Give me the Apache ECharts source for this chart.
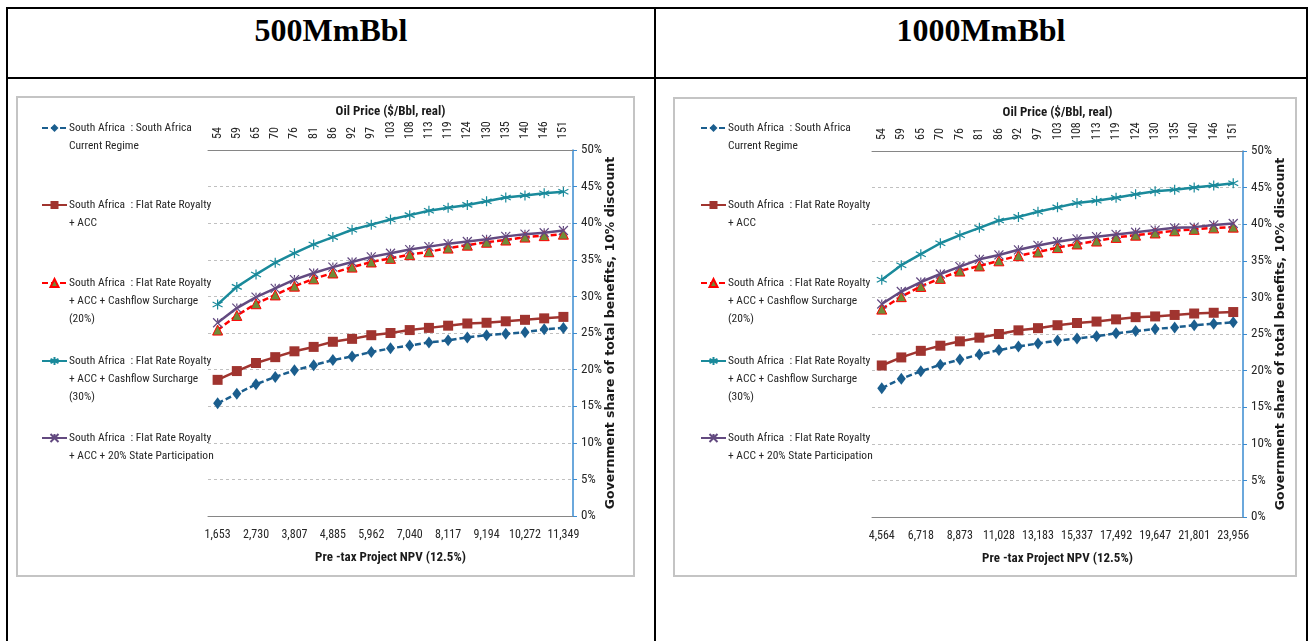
<!DOCTYPE html>
<html>
<head>
<meta charset="utf-8">
<script src="https://cdn.jsdelivr.net/npm/echarts@6/dist/echarts.min.js"></script>
<style>
  html, body { margin:0; padding:0; background:#fff; width:1315px; height:641px; overflow:hidden; }
  .ln { position:absolute; background:#000; }
  .hdr { position:absolute; top:13px; font-family:'Liberation Serif','Times New Roman',serif; font-weight:bold; font-size:32px; line-height:34px; text-align:center; color:#000; }
  .frame { position:absolute; box-sizing:border-box; border:2px solid #c4c4c4; }
  .chart { position:absolute; }
</style>
</head>
<body>
<div class="ln" style="left:6px;top:7px;width:1302px;height:2px;"></div>
<div class="ln" style="left:6px;top:7px;width:2px;height:640px;"></div>
<div class="ln" style="left:1306px;top:7px;width:2px;height:640px;"></div>
<div class="ln" style="left:654px;top:7px;width:2px;height:640px;"></div>
<div class="ln" style="left:6px;top:77px;width:1302px;height:2px;"></div>
<div class="hdr" style="left:8px;width:646px;">500MmBbl</div>
<div class="hdr" style="left:656px;width:650px;">1000MmBbl</div>
<div class="frame" style="left:16px;top:96px;width:619px;height:481px;"></div>
<div class="frame" style="left:673px;top:97px;width:624px;height:480px;"></div>
<div class="chart" id="c1" style="left:17px;top:97px;width:617px;height:479px;"></div>
<div class="chart" id="c2" style="left:674px;top:98px;width:622px;height:478px;"></div>
<script>
// ---- data ----
const oilPrice = ['54','59','65','70','76','81','86','92','97','103','108','113','119','124','130','135','140','146','151'];
const npv500 = ['1,653','2,192','2,730','3,269','3,807','4,346','4,885','5,423','5,962','6,501','7,040','7,578','8,117','8,655','9,194','9,733','10,272','10,810','11,349'];
const npv1000 = ['4,564','5,641','6,718','7,796','8,873','9,950','11,028','12,105','13,183','14,260','15,337','16,415','17,492','18,569','19,647','20,724','21,801','22,879','23,956'];
const yTicks = [0, 50, 5];

const seriesNames = ['Current Regime','Flat Rate Royalty + ACC','Flat Rate Royalty + ACC + Cashflow Surcharge (20%)','Flat Rate Royalty + ACC + Cashflow Surcharge (30%)','Flat Rate Royalty + ACC + 20% State Participation'];
const legendLines = [
  ['South Africa  : South Africa','Current Regime'],
  ['South Africa  : Flat Rate Royalty','+ ACC'],
  ['South Africa  : Flat Rate Royalty','+ ACC + Cashflow Surcharge','(20%)'],
  ['South Africa  : Flat Rate Royalty','+ ACC + Cashflow Surcharge','(30%)'],
  ['South Africa  : Flat Rate Royalty','+ ACC + 20% State Participation']
];

const current500 = [15.4,16.7,18.0,19.0,19.9,20.6,21.3,21.8,22.4,22.9,23.3,23.7,24.0,24.4,24.7,24.9,25.1,25.5,25.7];
const flat500    = [18.6,19.8,20.9,21.7,22.5,23.1,23.8,24.2,24.7,25.0,25.4,25.7,26.0,26.3,26.4,26.6,26.8,27.0,27.2];
const cfs20_500  = [25.4,27.4,29.0,30.2,31.4,32.4,33.2,34.0,34.7,35.2,35.7,36.1,36.6,37.0,37.4,37.7,38.1,38.3,38.5];
const cfs30_500  = [28.9,31.3,33.0,34.6,35.9,37.1,38.1,39.1,39.8,40.5,41.1,41.7,42.1,42.5,43.0,43.5,43.8,44.1,44.3];
const state500   = [26.4,28.4,29.9,31.1,32.3,33.2,34.0,34.7,35.4,35.9,36.4,36.8,37.2,37.5,37.8,38.2,38.5,38.7,39.0];

const current1000 = [17.6,18.9,19.9,20.8,21.5,22.2,22.8,23.3,23.7,24.1,24.4,24.7,25.1,25.4,25.7,25.9,26.2,26.4,26.6];
const flat1000    = [20.7,21.8,22.7,23.4,24.0,24.5,25.0,25.5,25.8,26.2,26.5,26.7,27.0,27.3,27.4,27.6,27.8,27.9,28.0];
const cfs20_1000  = [28.4,30.1,31.5,32.6,33.6,34.3,35.0,35.7,36.2,36.8,37.3,37.7,38.2,38.5,38.8,39.1,39.3,39.5,39.6];
const cfs30_1000  = [32.4,34.4,35.9,37.4,38.5,39.5,40.5,41.0,41.7,42.3,42.9,43.2,43.6,44.1,44.5,44.7,45.0,45.3,45.6];
const state1000   = [29.1,30.8,32.1,33.2,34.2,35.2,35.8,36.5,37.1,37.6,38.0,38.3,38.6,38.9,39.2,39.5,39.6,39.9,40.1];

// ---- styling ----
const FONT = "'Liberation Sans Narrow','Arial Narrow','Roboto Condensed',sans-serif";
const C_BLUE = '#1b5e8e', C_BROWN = '#a0342f', C_RED = '#ff0000', C_OLIVE = '#6f8c39', C_TEAL = '#1a8a9b', C_PURPLE = '#634a80';
const ASTER = 'path://M5,0L5,10M0.7,2.5L9.3,7.5M0.7,7.5L9.3,2.5';
const XMARK = 'path://M0,0L10,10M10,0L0,10M5,0L5,3';
const LH = 18;

function buildOption(npv, vals, gl, gw, legLeft, legCenters) {
  const styles = [
    { line: { color: C_BLUE, width: 2.5, type: [6, 3] }, symbol: 'diamond', size: [9, 12], item: { color: C_BLUE } },
    { line: { color: C_BROWN, width: 2.5, type: 'solid' }, symbol: 'rect', size: 10, item: { color: C_BROWN } },
    { line: { color: C_RED, width: 2.5, type: [6, 3] }, symbol: 'triangle', size: 10, item: { color: C_OLIVE, borderColor: C_RED, borderWidth: 1 } },
    { line: { color: C_TEAL, width: 2.5, type: 'solid' }, symbol: ASTER, size: 10, item: { color: 'rgba(0,0,0,0)', borderColor: C_TEAL, borderWidth: 1.2 } },
    { line: { color: C_PURPLE, width: 2.5, type: 'solid' }, symbol: XMARK, size: 9, item: { color: 'rgba(0,0,0,0)', borderColor: C_PURPLE, borderWidth: 1.2 } }
  ];
  const series = vals.map((d, i) => ({
    name: seriesNames[i], type: 'line', data: d, xAxisIndex: 0, yAxisIndex: 0,
    symbol: styles[i].symbol, symbolSize: styles[i].size, showAllSymbol: true,
    lineStyle: styles[i].line, itemStyle: styles[i].item, smooth: false,
    z: [2, 3, 4, 3, 5][i], animation: false
  }));
  const legends = seriesNames.map((nm, i) => {
    const n = legendLines[i].length;
    return {
      data: [nm], left: legLeft, top: legCenters[i] - (2 * n - 1) * LH / 2,
      orient: 'vertical', itemWidth: 25, itemHeight: 10, itemGap: 0, padding: 0,
      selectedMode: false,
      formatter: () => '\n'.repeat(n - 1) + legendLines[i].join('\n'),
      textStyle: { fontFamily: FONT, fontSize: 11.5, color: '#262626', lineHeight: LH, padding: [0, 0, 0, -3] }
    };
  });
  return {
    animation: false,
    textStyle: { fontFamily: FONT },
    grid: { left: gl, top: 53, width: gw, height: 366 },
    legend: legends,
    xAxis: [
      {
        type: 'category', position: 'bottom', data: npv, boundaryGap: true,
        axisLine: { lineStyle: { color: '#868686', width: 1 } },
        axisTick: { interval: 1, length: 4, lineStyle: { color: '#868686' } },
        axisLabel: { interval: 1, color: '#262626', fontSize: 12, margin: 13, fontFamily: FONT },
        name: 'Pre -tax Project NPV (12.5%)', nameLocation: 'middle', nameGap: 35, nameMoveOverlap: false,
        nameTextStyle: { fontWeight: 'bold', fontSize: 13, color: '#1a1a1a', fontFamily: FONT }
      },
      {
        type: 'category', position: 'top', data: oilPrice, boundaryGap: true,
        axisLine: { lineStyle: { color: '#868686', width: 1 } },
        axisTick: { interval: 0, length: 4, lineStyle: { color: '#868686' } },
        axisLabel: { interval: 0, rotate: -90, color: '#262626', fontSize: 12, margin: 11, fontFamily: FONT },
        name: 'Oil Price ($/Bbl, real)', nameLocation: 'middle', nameGap: 32, nameMoveOverlap: false,
        nameTextStyle: { fontWeight: 'bold', fontSize: 13, color: '#1a1a1a', fontFamily: FONT }
      }
    ],
    yAxis: [{
      type: 'value', position: 'right', min: yTicks[0], max: yTicks[1], interval: yTicks[2],
      axisLine: { show: true, lineStyle: { color: '#3a8bd0', width: 1.5 } },
      axisTick: { show: true, length: 4, lineStyle: { color: '#3a8bd0' } },
      axisLabel: { formatter: '{value}%', color: '#262626', fontSize: 13, margin: 8, fontFamily: FONT },
      splitLine: { show: true, lineStyle: { color: '#c0c0c0', type: [3, 3], width: 1 } },
      name: 'Government share of total benefits, 10% discount', nameLocation: 'middle', nameRotate: 90, nameGap: 31, nameMoveOverlap: false,
      nameTextStyle: { fontWeight: 'bold', fontSize: 12.5, color: '#1a1a1a', fontFamily: "'DejaVu Sans',sans-serif" }
    }],
    series: series
  };
}

const ch1 = echarts.init(document.getElementById('c1'), null, { renderer: 'canvas' });
ch1.setOption(buildOption(npv500, [current500, flat500, cfs20_500, cfs30_500, state500], 191, 365, 24, [31, 108, 186, 264, 341]));
const ch2 = echarts.init(document.getElementById('c2'), null, { renderer: 'canvas' });
ch2.setOption(buildOption(npv1000, [current1000, flat1000, cfs20_1000, cfs30_1000, state1000], 198, 371, 26, [30, 107, 185, 263, 340]));
</script>
</body>
</html>
